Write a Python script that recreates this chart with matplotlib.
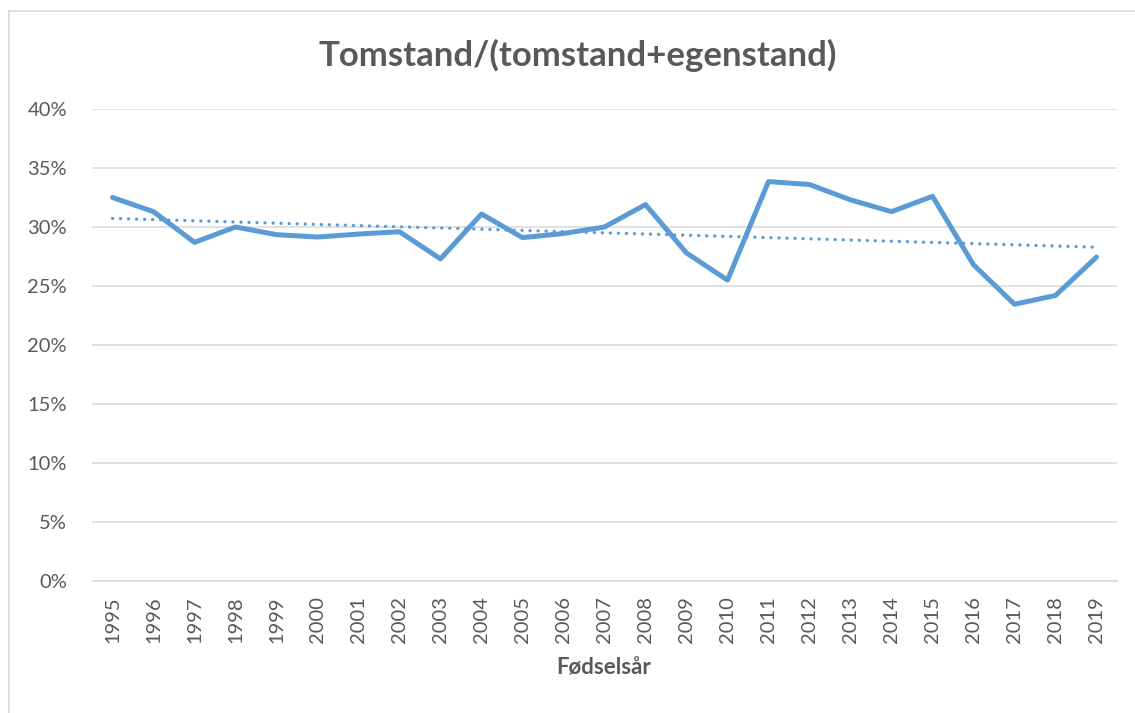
import matplotlib
matplotlib.use("Agg")
import matplotlib.pyplot as plt
import numpy as np
from matplotlib.lines import Line2D

years = [str(y) for y in range(1995, 2020)]
values = [32.5, 31.3, 28.7, 30.0, 29.35, 29.15, 29.4, 29.6, 27.3, 31.1,
          29.1, 29.45, 30.0, 31.9, 27.8, 25.5, 33.85, 33.6, 32.3, 31.3,
          32.6, 26.8, 23.45, 24.2, 27.45]
yticks = [0, 5, 10, 15, 20, 25, 30, 35, 40]

plt.rcParams['font.family'] = ['Lato', 'DejaVu Sans']

fig = plt.figure(figsize=(11.35, 7.13), dpi=100)
ax = fig.add_axes([92/1135, 1-581/713, 1025/1135, (581-109)/713])

x = np.arange(len(years))
vals = np.array(values)
ax.plot(x, vals, color='#5b9bd5', lw=3.6, solid_joinstyle='round', solid_capstyle='round', zorder=3)
coef = np.polyfit(x, vals, 1)
trend = np.polyval(coef, x)
ax.plot(x, trend, color='#5b9bd5', lw=2.4, linestyle=(0, (0.01, 2.4)), dash_capstyle='round', zorder=2)

ax.set_xlim(-0.5, len(years) - 0.5)
ax.set_ylim(0, 40)
ax.set_yticks(yticks)
ax.set_yticklabels([f"{t}%" for t in yticks])
ax.set_xticks(x)
ax.set_xticklabels(years, rotation=90)
ax.grid(axis='y', color='#d9d9d9', lw=1.1)
ax.set_axisbelow(True)
for s in ['top', 'right', 'left']:
    ax.spines[s].set_visible(False)
ax.spines['bottom'].set_color('#d9d9d9')
ax.spines['bottom'].set_linewidth(1.1)
ax.tick_params(axis='both', length=0, labelsize=14.5, colors='#595959')
ax.tick_params(axis='y', pad=18)
ax.tick_params(axis='x', pad=11)

fig.text(578/1135, 1-55/713, "Tomstand/(tomstand+egenstand)", ha='center', va='center',
         fontsize=25, fontweight='bold', color='#595959')
fig.text(604/1135, 1-668/713, "Fødselsår", ha='center', va='center',
         fontsize=16, fontweight='bold', color='#595959')

# chart border (top and left visible)
fig.add_artist(Line2D([8.5/1135, 1], [1-10.5/713, 1-10.5/713], color='#d9d9d9', lw=1.2, transform=fig.transFigure))
fig.add_artist(Line2D([8.5/1135, 8.5/1135], [0, 1-10.5/713], color='#d9d9d9', lw=1.2, transform=fig.transFigure))

fig.savefig("out.png", dpi=100)
